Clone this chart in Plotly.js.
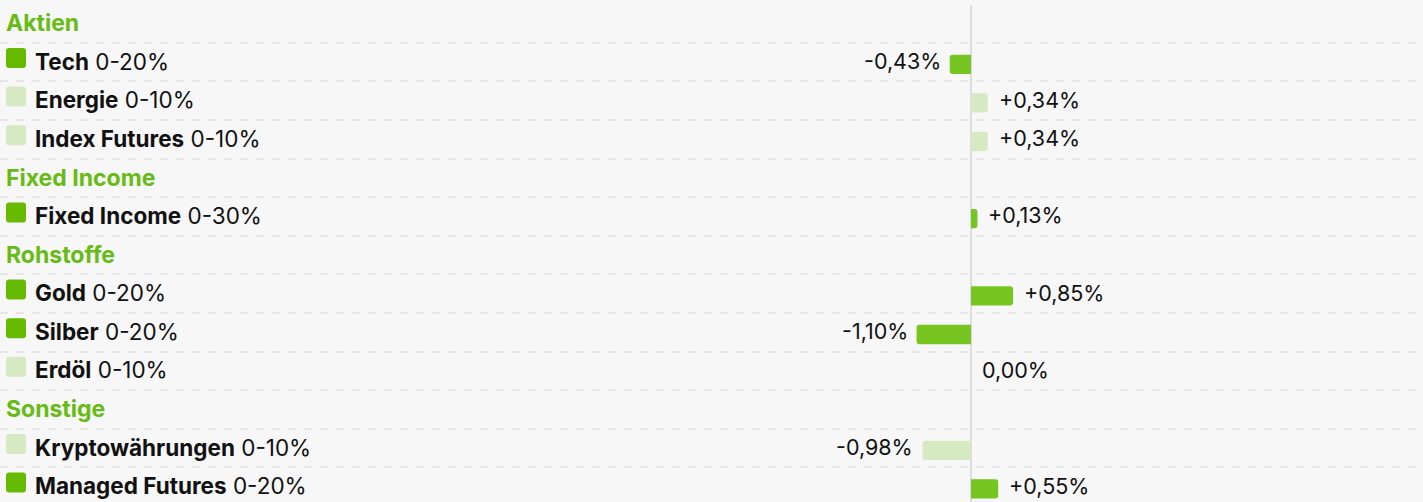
<!DOCTYPE html>
<html>
<head>
<meta charset="utf-8">
<script src="https://cdn.plot.ly/plotly-3.0.1.min.js"></script>
<style>
html,body{margin:0;padding:0;background:#f7f7f7;}
#chart{width:1423px;height:502px;}
</style>
</head>
<body>
<div id="chart"></div>
<script>
// ---- data ----
const groups = ['Aktien', 'Fixed Income', 'Rohstoffe', 'Sonstige'];
const itemNames = ['Tech', 'Energie', 'Index Futures', 'Fixed Income', 'Gold', 'Silber', 'Erdöl', 'Kryptowährungen', 'Managed Futures'];
const itemGroups = ['Aktien', 'Aktien', 'Aktien', 'Fixed Income', 'Rohstoffe', 'Rohstoffe', 'Rohstoffe', 'Sonstige', 'Sonstige'];
const itemRanges = ['0-20%', '0-10%', '0-10%', '0-30%', '0-20%', '0-20%', '0-10%', '0-10%', '0-20%'];
const changes = [-0.43, 0.34, 0.34, 0.13, 0.85, -1.10, 0.00, -0.98, 0.55];
const active = [1, 0, 0, 1, 1, 1, 0, 0, 1];

// ---- styles ----
const DARK = '#76c520';
const LIGHT = '#d5e9c2';
const HEAD = '#66bb14';
const FONT = 'Inter, "Noto Sans", sans-serif';
const W = 1423, H = 502;
const PX_PER_UNIT = 49.5;   // pixels per 1 %
const ZERO_PX = 971;
const ROW_PX = 38.6, ROW0_PX = 23.4, TOP = 5;

// build rows
const rows = [];
groups.forEach(g => {
  rows.push({type: 'head', text: g});
  itemNames.forEach((n, i) => {
    if (itemGroups[i] === g) rows.push({type: 'item', idx: i});
  });
});
const itemRow = {};
rows.forEach((r, k) => { if (r.type === 'item') itemRow[r.idx] = k; });

const fmt = v => (v > 0 ? '+' : '') + v.toFixed(2).replace('.', ',') + '%';

const barY = itemNames.map((_, i) => itemRow[i]);
const trace = {
  type: 'bar', orientation: 'h',
  x: changes, y: barY,
  width: 0.5, offset: -0.19,
  marker: {color: active.map(a => a ? DARK : LIGHT), line: {width: 0}},
  hoverinfo: 'skip'
};

const annotations = [];
const shapes = [];
rows.forEach((r, k) => {
  if (r.type === 'head') {
    annotations.push({xref: 'paper', yref: 'y', x: 4 / W, y: k, xanchor: 'left', yanchor: 'middle',
      text: '<b>' + r.text + '</b>', showarrow: false, yshift: 0,
      font: {family: FONT, size: 23, color: HEAD}});
  } else {
    const i = r.idx;
    annotations.push({xref: 'paper', yref: 'y', x: 33 / W, y: k, xanchor: 'left', yanchor: 'middle',
      text: '<b>' + itemNames[i] + '</b> ' + itemRanges[i], showarrow: false, yshift: 1,
      font: {family: FONT, size: 22.5, color: '#111111'}});
    shapes.push({type: 'path', xref: 'paper', yref: 'y', xsizemode: 'pixel', ysizemode: 'pixel',
      xanchor: 6 / W, yanchor: k,
      path: 'M 3 -6 L 17 -6 Q 20 -6 20 -3 L 20 11 Q 20 14 17 14 L 3 14 Q 0 14 0 11 L 0 -3 Q 0 -6 3 -6 Z',
      fillcolor: active[i] ? '#66bb00' : LIGHT, line: {width: 0}, layer: 'above'});
    const v = changes[i];
    annotations.push({xref: 'x', yref: 'y', x: v, y: k,
      xanchor: v < 0 ? 'right' : 'left', yanchor: 'middle',
      xshift: v < 0 ? -7 : 9, yshift: 1,
      text: fmt(v), showarrow: false,
      font: {family: FONT, size: 21.5, color: '#111111'}});
  }
});

const gridVals = [];
for (let k = 0; k < rows.length - 1; k++) gridVals.push(k + 0.5);

const xmin = -ZERO_PX / PX_PER_UNIT, xmax = (W - ZERO_PX) / PX_PER_UNIT;
const ytop = (TOP - ROW0_PX) / ROW_PX, ybot = (H - ROW0_PX) / ROW_PX;

const layout = {
  width: W, height: H,
  margin: {l: 0, r: 0, t: TOP, b: 0, pad: 0},
  paper_bgcolor: '#f7f7f7', plot_bgcolor: '#f7f7f7',
  showlegend: false,
  barcornerradius: 3,
  xaxis: {range: [xmin, xmax], showgrid: false, zeroline: true, zerolinecolor: '#dddddd', zerolinewidth: 2,
    showticklabels: false, ticks: '', fixedrange: true},
  yaxis: {range: [ybot, ytop], tickmode: 'array', tickvals: gridVals, showticklabels: false, ticks: '',
    showgrid: true, gridcolor: '#e6e6e6', gridwidth: 2, griddash: '8px,8px', zeroline: false, fixedrange: true},
  annotations: annotations,
  shapes: shapes,
  font: {family: FONT}
};

Plotly.newPlot('chart', [trace], layout, {staticPlot: true, displayModeBar: false});
</script>
</body>
</html>
